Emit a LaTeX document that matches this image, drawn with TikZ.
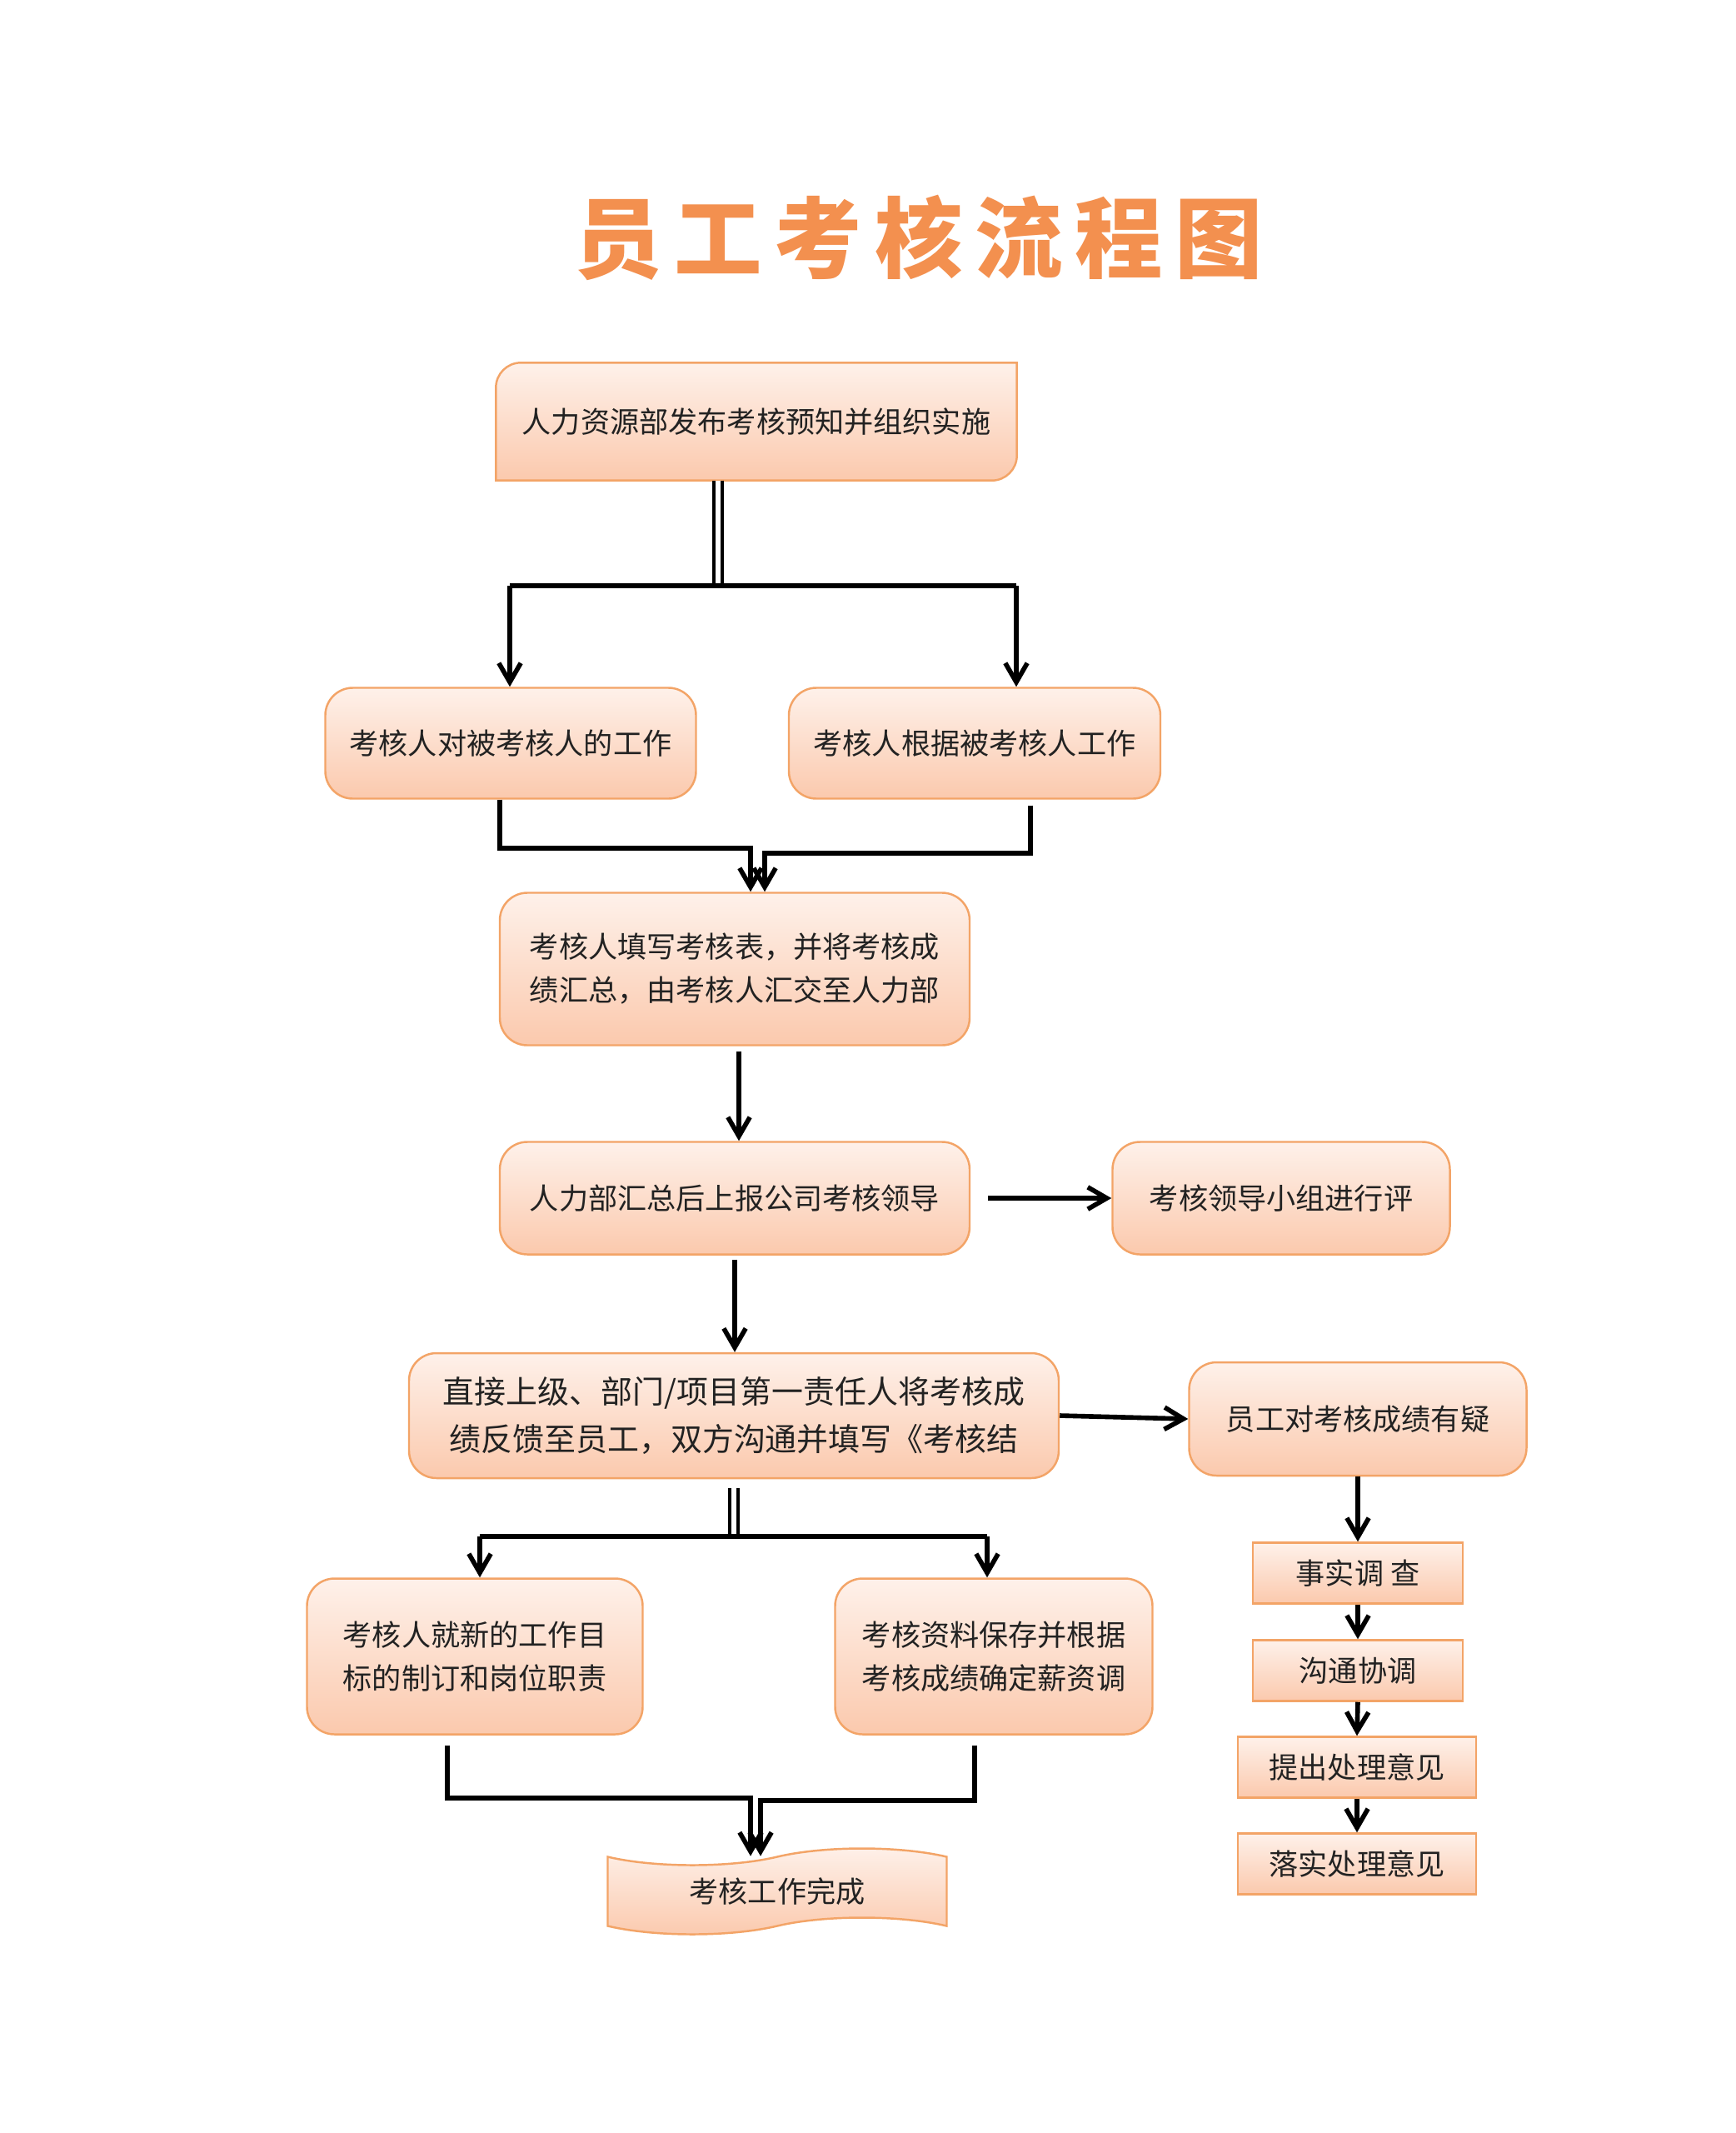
\documentclass[tikz,border=0pt]{standalone}
\usepackage{fontspec}
\setmainfont{Noto Sans CJK SC}
\newfontfamily\titlefont[LetterSpace=14]{Noto Sans CJK SC}
\usetikzlibrary{shapes.symbols,arrows.meta,positioning,calc,backgrounds}
\definecolor{peachtop}{HTML}{FEF1EA}
\definecolor{peachbot}{HTML}{FBC9AD}
\definecolor{boxedge}{HTML}{F3A467}
\definecolor{titleorange}{HTML}{F3904F}
\definecolor{inktext}{HTML}{222222}

\begin{document}
\begin{tikzpicture}[every node/.style={font=\fontsize{10pt}{14.8pt}\selectfont, text=inktext, align=center, inner sep=0pt},
  box/.style={draw=boxedge, line width=0.7pt, top color=peachtop, bottom color=peachbot, rounded corners=0.33cm},
  rbox/.style={draw=boxedge, line width=0.7pt, top color=peachtop, bottom color=peachbot},
  conn/.style={line width=1.6pt},
  arr/.style={conn, -{Straight Barb[length=6.5pt,width=7.5pt]}},
  dbl/.style={line width=1.2pt, double, double distance=1.5pt}]
  \useasboundingbox (0,0) rectangle (20.83,-25.60);

  % Title
  \node[font=\titlefont\bfseries\fontsize{30pt}{30pt}\selectfont, text=titleorange] (title) at (11.03,-2.85) {员工考核流程图};

  % Boxes for the main flow
  \node[minimum width=6.24cm, minimum height=1.40cm] (a) at (9.08,-5.06) {人力资源部发布考核预知并组织实施};
  \node[box, minimum width=4.45cm, minimum height=1.33cm] (b1) at (6.13,-8.92) {考核人对被考核人的工作};
  \node[box, minimum width=4.46cm, minimum height=1.33cm] (b2) at (11.70,-8.92) {考核人根据被考核人工作};
  \node[box, minimum width=5.64cm, minimum height=1.83cm] (c) at (8.82,-11.63) {考核人填写考核表，并将考核成\\绩汇总，由考核人汇交至人力部};
  \node[box, minimum width=5.64cm, minimum height=1.35cm] (d) at (8.82,-14.38) {人力部汇总后上报公司考核领导};
  \node[box, minimum width=4.05cm, minimum height=1.35cm] (e) at (15.38,-14.38) {考核领导小组进行评};
  \node[box, minimum width=7.80cm, minimum height=1.50cm, font=\fontsize{10.8pt}{16pt}\selectfont] (f) at (8.81,-16.99) {直接上级、部门/项目第一责任人将考核成\\绩反馈至员工，双方沟通并填写《考核结};
  \node[box, minimum width=4.05cm, minimum height=1.36cm] (g) at (16.30,-17.03) {员工对考核成绩有疑};
  \node[box, minimum width=4.03cm, minimum height=1.87cm] (l) at (5.70,-19.88) {考核人就新的工作目\\标的制订和岗位职责};
  \node[box, minimum width=3.81cm, minimum height=1.87cm] (m) at (11.93,-19.88) {考核资料保存并根据\\考核成绩确定薪资调};
  \node[rbox, shape=tape, tape bend height=0.2cm, minimum width=4.07cm, minimum height=1.03cm] (n) at (9.33,-22.70) {考核工作完成};

  % Boxes for the appeal steps
  \node[rbox, minimum width=2.52cm, minimum height=0.73cm] (h) at (16.30,-18.88) {事实调 查};
  \node[rbox, minimum width=2.52cm, minimum height=0.73cm] (i) at (16.30,-20.05) {沟通协调};
  \node[rbox, minimum width=2.86cm, minimum height=0.73cm] (j) at (16.29,-21.21) {提出处理意见};
  \node[rbox, minimum width=2.86cm, minimum height=0.73cm] (k) at (16.29,-22.37) {落实处理意见};

  % Page and top box with two rounded corners
  \begin{scope}[on background layer]
    \fill[white] (0,0) rectangle (20.83,-25.60);
    \draw[rbox] (a.south west) -- ([yshift=-0.3cm]a.north west) arc[start angle=180, end angle=90, radius=0.3cm]
      -- (a.north east) -- ([yshift=0.3cm]a.south east) arc[start angle=0, end angle=-90, radius=0.3cm] -- cycle;
  \end{scope}

  % Split after the top box
  \coordinate (s1) at (8.62,-7.03);
  \coordinate (s1l) at (6.12,-7.03);
  \coordinate (s1r) at (12.20,-7.03);
  \draw[dbl] (s1 |- a.south) -- (s1);
  \draw[conn] (s1l) -- (s1r);
  \draw[arr] (s1l) -- (s1l |- b1.north);
  \draw[arr] (s1r) -- (s1r |- b2.north);

  % Merge into the form box
  \draw[arr] ([xshift=-0.13cm]b1.south) -- ++(0,-0.585) -| ([xshift=0.19cm]c.north);
  \draw[arr] ([xshift=0.67cm,yshift=-0.07cm]b2.south) -- ++(0,-0.57) -| ([xshift=0.36cm]c.north);

  % Straight arrows
  \draw[arr] ([xshift=0.05cm,yshift=-0.06cm]c.south) -- ([xshift=0.05cm]d.north);
  \draw[arr] ([xshift=0.21cm]d.east) -- (e.west);
  \draw[arr] ([yshift=-0.05cm]d.south) -- (d.south |- f.north);
  \draw[arr] (f.east) -- (g.west);
  \draw[arr] (g.south) -- (h.north);
  \draw[arr] (h.south) -- (i.north);
  \draw[arr] (i.south) -- (j.north);
  \draw[arr] (j.south) -- (k.north);

  % Split after the feedback box
  \coordinate (s2) at (8.81,-18.44);
  \coordinate (s2l) at (5.76,-18.44);
  \coordinate (s2r) at (11.85,-18.44);
  \draw[dbl] ([yshift=-0.11cm]f.south) -- (s2);
  \draw[conn] (s2l) -- (s2r);
  \draw[arr] (s2l) -- (s2l |- l.north);
  \draw[arr] (s2r) -- (s2r |- m.north);

  % Merge into the end box
  \draw[arr] ([xshift=-0.33cm,yshift=-0.12cm]l.south) -- ++(0,-0.63) -| ([xshift=-0.32cm]n.north);
  \draw[arr] ([xshift=-0.23cm,yshift=-0.12cm]m.south) -- ++(0,-0.66) -| ([xshift=-0.20cm]n.north);
\end{tikzpicture}
\end{document}
